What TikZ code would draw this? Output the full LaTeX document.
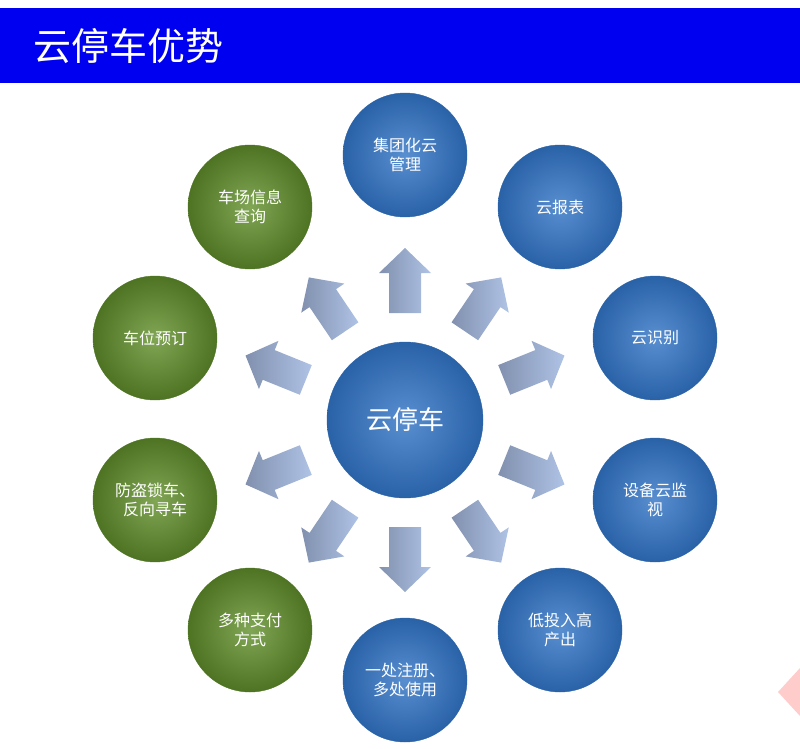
\documentclass[tikz,border=0pt]{standalone}
\usepackage{fontspec}
\setmainfont{Noto Sans CJK SC}
\usetikzlibrary{positioning}
\definecolor{titleBlue}{HTML}{0000F0}
\definecolor{ballBlue}{HTML}{3B7BC8}
\definecolor{ballBlueDark}{HTML}{2A62A8}
\definecolor{ballGreen}{HTML}{6A9636}
\definecolor{ballGreenDark}{HTML}{4E7423}
\definecolor{arrowLight}{HTML}{AFC3E6}
\definecolor{arrowDark}{HTML}{8190AE}
\tikzset{
    bluecirc/.style={
        circle,
        minimum size=124pt,
        inner color=ballBlue!85!white,
        outer color=ballBlueDark,
        draw=ballBlueDark,
        align=center,
        text=white,
        font=\fontsize{16}{19}\selectfont
    },
    greencirc/.style={
        bluecirc,
        inner color=ballGreen!85!white,
        outer color=ballGreenDark,
        draw=ballGreenDark
    },
    hub/.style={
        bluecirc,
        minimum size=156pt,
        font=\fontsize{26}{30}\selectfont
    }
}
\newcommand{\blockarrow}[1]{%
    \begin{scope}[shift={(405,420)}, rotate=#1]
        \shade[left color=arrowDark, right color=arrowLight]
            (107,-16) -- (147,-16) -- (147,-26) -- (172,0) -- (147,26) -- (147,16) -- (107,16) -- cycle;
    \end{scope}}
\begin{document}
\begin{tikzpicture}[x=1pt, y=-1pt]
    \useasboundingbox (0,0) rectangle (800,749);
    % title bar
    \fill[titleBlue] (0,8) rectangle (800,83);
    \node[anchor=west, text=white, font=\fontsize{38}{42}\selectfont] (title) at (30,46) {云停车优势};
    % corner mark
    \fill[red!20] (800,668) -- (778,692) -- (800,716) -- cycle;
    % arrows
    \foreach \a in {90, 56, 22, -22, -56, -90, -124, -158, 158, 124}
        \blockarrow{-\a};
    % circles
    \node[hub] (hub) at (405,420) {云停车};
    \node[bluecirc] (group) at (405,155) {集团化云\\管理};
    \node[bluecirc] (report) at (560,207) {云报表};
    \node[bluecirc] (ident) at (655,338) {云识别};
    \node[bluecirc] (monitor) at (655,500) {设备云监\\视};
    \node[bluecirc] (cost) at (560,630) {低投入高\\产出};
    \node[bluecirc] (reg) at (405,680) {一处注册、\\多处使用};
    \node[greencirc] (pay) at (250,630) {多种支付\\方式};
    \node[greencirc] (lock) at (155,500) {防盗锁车、\\反向寻车};
    \node[greencirc] (book) at (155,338) {车位预订};
    \node[greencirc] (query) at (250,207) {车场信息\\查询};
\end{tikzpicture}
\end{document}
